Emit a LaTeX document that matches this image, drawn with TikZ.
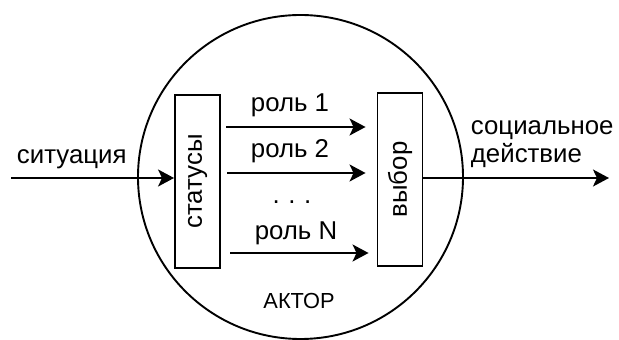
\documentclass[tikz,border=0pt]{standalone}
\usepackage{fontspec}
\setmainfont{Liberation Sans}
\usetikzlibrary{arrows.meta}
\begin{document}
\begin{tikzpicture}[x=1pt,y=1pt,
  line width=1.9pt,
  flow/.style={-{Stealth[length=16pt,width=17pt,inset=4pt]}},
  stagebox/.style={draw,rectangle,minimum width=45pt,minimum height=173pt,inner sep=0pt},
  lbl/.style={font=\fontsize{25.8}{28}\selectfont,inner sep=0pt},
  small/.style={font=\fontsize{21.8}{24}\selectfont,inner sep=0pt}]
\useasboundingbox (0,0) rectangle (619,340);

% actor body
\begin{scope}
  \clip (0,0) rectangle (619,340);
  \draw (300.5,163) ellipse [x radius=162.5, y radius=162];
\end{scope}

% status and choice blocks
\node[stagebox] (st) at (197.5,158.5) {};
\node[lbl,rotate=90] at (st.center) {статусы};
\node[stagebox] (ch) at (400,160.5) {};
\node[lbl,rotate=90] at (ch.center) {выбор};

% input situation
\coordinate (in) at (11,162);
\draw[flow] (in) -- (st.west |- in);
\node[lbl,anchor=base west] (sit) at (16,176) {ситуация};

% roles
\coordinate (r1s) at (226,213);
\coordinate (r2s) at (227,167);
\coordinate (rNs) at (230,87);
\draw[flow] (r1s) -- ([xshift=-11pt]ch.west |- r1s);
\draw[flow] (r2s) -- ([xshift=-11pt]ch.west |- r2s);
\draw[flow] (rNs) -- ([xshift=-8pt]ch.west |- rNs);
\node[lbl,anchor=base] (l1) at (290,228) {роль 1};
\node[lbl,anchor=base] (l2) at (290,182) {роль 2};
\node[lbl,anchor=base] (ld) at (292,136) {.\,\,.\,\,.};
\node[lbl,anchor=base] (lN) at (296,100) {роль N};

% output action
\coordinate (out) at (609,162);
\draw[flow] (ch.east |- out) -- (out);
\node[lbl,anchor=base west,align=left] (act) at (470,177) {социальное\\действие};

% actor caption
\node[small,anchor=base] (actor) at (299,31) {АКТОР};
\end{tikzpicture}
\end{document}
